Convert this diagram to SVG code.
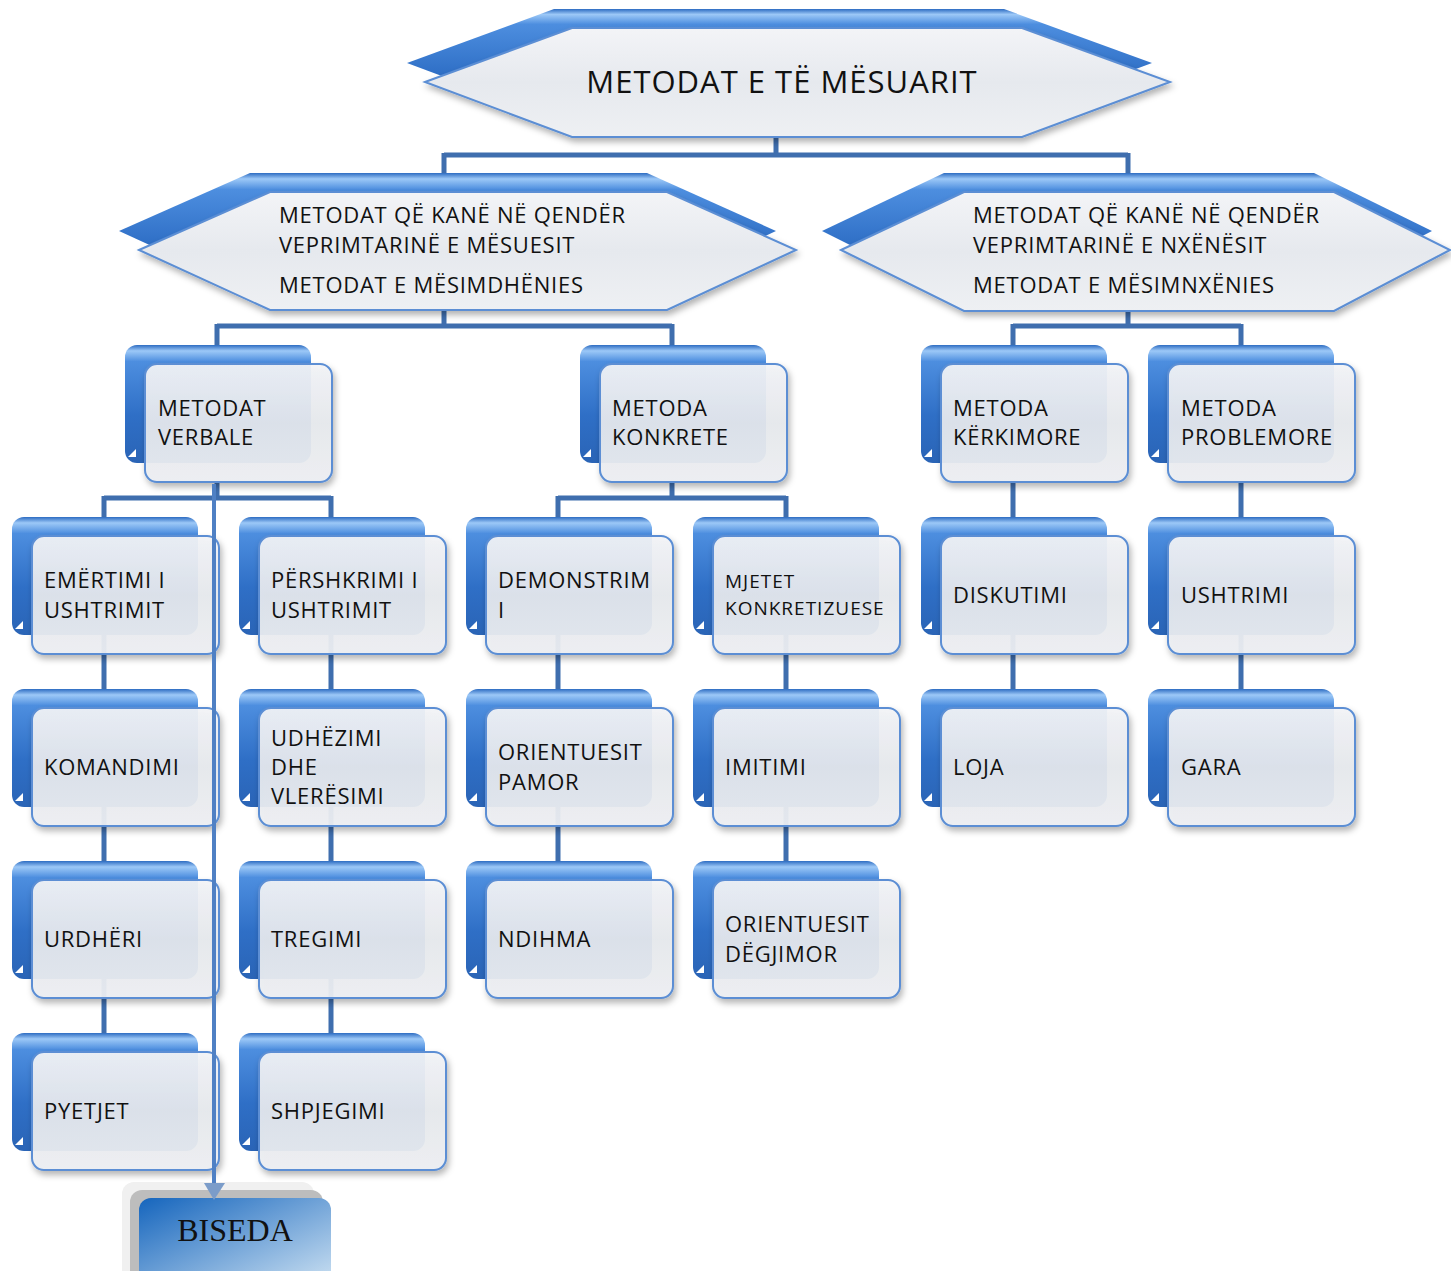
<svg xmlns="http://www.w3.org/2000/svg" xmlns:xlink="http://www.w3.org/1999/xlink" width="1451" height="1271" viewBox="0 0 1451 1271">
<defs>
<linearGradient id="gBack" x1="0" y1="0" x2="0" y2="1">
<stop offset="0" stop-color="#2d6cc2"/>
<stop offset="0.05" stop-color="#9cc8f7"/>
<stop offset="0.14" stop-color="#4d8edf"/>
<stop offset="0.6" stop-color="#2f6fc6"/>
<stop offset="1" stop-color="#2a64b6"/>
</linearGradient>
<linearGradient id="gFront" x1="0" y1="0" x2="0" y2="1">
<stop offset="0" stop-color="#f3f4f7"/>
<stop offset="0.5" stop-color="#e6e9ee"/>
<stop offset="1" stop-color="#eef0f3"/>
</linearGradient>
<linearGradient id="gBis" x1="0" y1="0" x2="1" y2="1">
<stop offset="0" stop-color="#1565bd"/>
<stop offset="1" stop-color="#cfe3f3"/>
</linearGradient>
<filter id="sh" x="-10%" y="-10%" width="125%" height="130%">
<feDropShadow dx="2" dy="4" stdDeviation="3" flood-color="#000" flood-opacity="0.3"/>
</filter>
<g id="bk">
<rect x="0" y="0" width="186" height="118" rx="12" fill="url(#gBack)"/>
<path d="M3 112 L11 104 L11 112 Z" fill="#fff"/>
</g>
<rect id="fr" x="0" y="0" width="187" height="118" rx="12" fill="url(#gFront)" fill-opacity="0.93" stroke="#5b8ed4" stroke-width="2" filter="url(#sh)"/>
</defs>
<style>
text{font-family:"Open Sans","Liberation Sans",sans-serif;font-size:22px;fill:#111;letter-spacing:0.75px;}
.sm{font-size:19px;letter-spacing:1px;}
.title{font-size:31px;letter-spacing:1px;}
.con{fill:none;stroke:#3f6eae;stroke-width:5;}
.hb{fill:url(#gBack);}
.hf{fill:url(#gFront);stroke:#5b8ed4;stroke-width:2;filter:url(#sh);}
</style>
<rect width="1451" height="1271" fill="#fff"/>

<g id="connectors">
<path class="con" d="M776,137 V155 M444,155 H1128 M444,153 V180 M1128,153 V180"/>
<path class="con" d="M444,310 V326 M217,326 H672 M217,324 V350 M672,324 V350"/>
<path class="con" d="M1128,311 V326 M1013,326 H1241 M1013,324 V350 M1241,324 V350"/>
<path class="con" d="M217,482 V498 M104,498 H331 M104,496 V522 M331,496 V522"/>
<path class="con" d="M672,482 V498 M558,498 H786 M558,496 V522 M786,496 V522"/>
<path class="con" d="M1013,482 V522 M1241,482 V522"/>
<path class="con" d="M104,600 V1040 M331,600 V1040 M558,600 V868 M786,600 V868 M1013,600 V695 M1241,600 V695"/>
</g>

<g id="n-root">
<path class="hb" d="M407,63 L554,9 L1004,9 L1152,63 L1004,118 L554,118 Z"/>
<path class="hf" d="M425,82 L572,28 L1022,28 L1170,82 L1022,137 L572,137 Z"/>
<text class="title" x="782" y="93" text-anchor="middle">METODAT E TË MËSUARIT</text>
</g>

<g id="n-mesuesit">
<path class="hb" d="M119,231 L250,173 L647,173 L776,231 L647,291 L250,291 Z"/>
<path class="hf" d="M139,250 L270,192 L667,192 L796,250 L667,310 L270,310 Z"/>
<text x="279" y="223">METODAT QË KANË NË QENDËR</text>
<text x="279" y="253">VEPRIMTARINË E MËSUESIT</text>
<text x="279" y="293">METODAT E MËSIMDHËNIES</text>
</g>

<g id="n-nxenesit">
<path class="hb" d="M822,231 L944,173 L1314,173 L1432,231 L1314,292 L944,292 Z"/>
<path class="hf" d="M841,250 L964,192 L1334,192 L1450,250 L1334,311 L964,311 Z"/>
<text x="973" y="223">METODAT QË KANË NË QENDËR</text>
<text x="973" y="253">VEPRIMTARINË E NXËNËSIT</text>
<text x="973" y="293">METODAT E MËSIMNXËNIES</text>
</g>

<g id="n-verbale"><use href="#bk" x="125" y="345"/><use href="#fr" x="145" y="364"/><text x="158" y="416">METODAT</text><text x="158" y="445">VERBALE</text></g>
<g id="n-konkrete"><use href="#bk" x="580" y="345"/><use href="#fr" x="600" y="364"/><text x="612" y="416">METODA</text><text x="612" y="445">KONKRETE</text></g>
<g id="n-kerkimore"><use href="#bk" x="921" y="345"/><use href="#fr" x="941" y="364"/><text x="953" y="416">METODA</text><text x="953" y="445">KËRKIMORE</text></g>
<g id="n-problemore"><use href="#bk" x="1148" y="345"/><use href="#fr" x="1168" y="364"/><text x="1181" y="416">METODA</text><text x="1181" y="445">PROBLEMORE</text></g>

<g id="n-emertimi"><use href="#bk" x="12" y="517"/><use href="#fr" x="32" y="536"/><text x="44" y="588">EMËRTIMI I</text><text x="44" y="618">USHTRIMIT</text></g>
<g id="n-pershkrimi"><use href="#bk" x="239" y="517"/><use href="#fr" x="259" y="536"/><text x="271" y="588">PËRSHKRIMI I</text><text x="271" y="618">USHTRIMIT</text></g>
<g id="n-demonstrimi"><use href="#bk" x="466" y="517"/><use href="#fr" x="486" y="536"/><text x="498" y="588">DEMONSTRIM</text><text x="498" y="618">I</text></g>
<g id="n-mjetet"><use href="#bk" x="693" y="517"/><use href="#fr" x="713" y="536"/><text class="sm" x="725" y="588">MJETET</text><text class="sm" x="725" y="615">KONKRETIZUESE</text></g>
<g id="n-diskutimi"><use href="#bk" x="921" y="517"/><use href="#fr" x="941" y="536"/><text x="953" y="603">DISKUTIMI</text></g>
<g id="n-ushtrimi"><use href="#bk" x="1148" y="517"/><use href="#fr" x="1168" y="536"/><text x="1181" y="603">USHTRIMI</text></g>

<g id="n-komandimi"><use href="#bk" x="12" y="689"/><use href="#fr" x="32" y="708"/><text x="44" y="775">KOMANDIMI</text></g>
<g id="n-udhezimi"><use href="#bk" x="239" y="689"/><use href="#fr" x="259" y="708"/><text x="271" y="746">UDHËZIMI</text><text x="271" y="775">DHE</text><text x="271" y="804">VLERËSIMI</text></g>
<g id="n-pamor"><use href="#bk" x="466" y="689"/><use href="#fr" x="486" y="708"/><text x="498" y="760">ORIENTUESIT</text><text x="498" y="790">PAMOR</text></g>
<g id="n-imitimi"><use href="#bk" x="693" y="689"/><use href="#fr" x="713" y="708"/><text x="725" y="775">IMITIMI</text></g>
<g id="n-loja"><use href="#bk" x="921" y="689"/><use href="#fr" x="941" y="708"/><text x="953" y="775">LOJA</text></g>
<g id="n-gara"><use href="#bk" x="1148" y="689"/><use href="#fr" x="1168" y="708"/><text x="1181" y="775">GARA</text></g>

<g id="n-urdheri"><use href="#bk" x="12" y="861"/><use href="#fr" x="32" y="880"/><text x="44" y="947">URDHËRI</text></g>
<g id="n-tregimi"><use href="#bk" x="239" y="861"/><use href="#fr" x="259" y="880"/><text x="271" y="947">TREGIMI</text></g>
<g id="n-ndihma"><use href="#bk" x="466" y="861"/><use href="#fr" x="486" y="880"/><text x="498" y="947">NDIHMA</text></g>
<g id="n-degjimor"><use href="#bk" x="693" y="861"/><use href="#fr" x="713" y="880"/><text x="725" y="932">ORIENTUESIT</text><text x="725" y="962">DËGJIMOR</text></g>

<g id="n-pyetjet"><use href="#bk" x="12" y="1033"/><use href="#fr" x="32" y="1052"/><text x="44" y="1119">PYETJET</text></g>
<g id="n-shpjegimi"><use href="#bk" x="239" y="1033"/><use href="#fr" x="259" y="1052"/><text x="271" y="1119">SHPJEGIMI</text></g>

<g id="n-biseda">
<rect x="122" y="1182" width="192" height="100" rx="12" fill="#f0f0f0"/>
<rect x="130" y="1190" width="193" height="100" rx="12" fill="#bdbdbd"/>
<rect x="139" y="1198" width="192" height="90" rx="12" fill="url(#gBis)"/>
<text x="235" y="1241" text-anchor="middle" style="font-family:'Liberation Serif','Times New Roman',serif;font-size:32px;letter-spacing:0">BISEDA</text>
</g>

<g id="arrow">
<path d="M214,484 V1185" stroke="#4f80c4" stroke-width="4" fill="none"/>
<path d="M204,1183 L225,1183 L214,1200 Z" fill="#7b9cc9"/>
</g>
</svg>
